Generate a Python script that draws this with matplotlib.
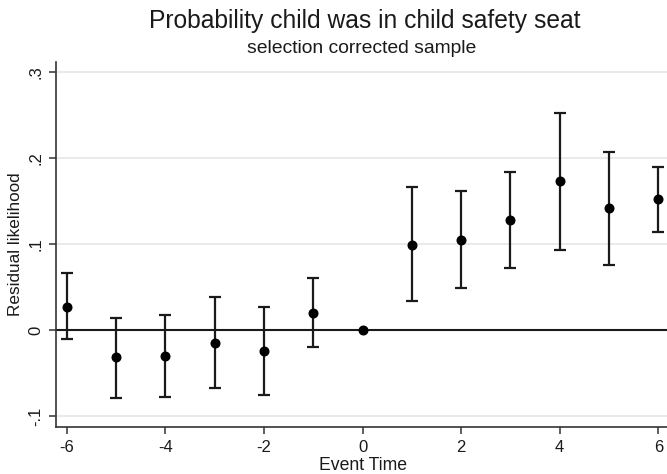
import matplotlib
matplotlib.use("Agg")
import matplotlib.pyplot as plt
from matplotlib.ticker import FixedLocator

plt.rcParams['font.family'] = ['Liberation Sans', 'DejaVu Sans']

event_time = [-6, -5, -4, -3, -2, -1, 0, 1, 2, 3, 4, 5, 6]
estimate = [0.027, -0.032, -0.030, -0.015, -0.024, 0.020, 0.0, 0.099, 0.105, 0.128, 0.173, 0.1415, 0.1516]
ci_upper = [0.066, 0.014, 0.017, 0.038, 0.027, 0.060, 0.0, 0.166, 0.161, 0.183, 0.252, 0.2066, 0.189]
ci_lower = [-0.011, -0.079, -0.078, -0.068, -0.076, -0.020, 0.0, 0.034, 0.049, 0.072, 0.093, 0.076, 0.114]
y_ticks = [-0.1, 0, 0.1, 0.2, 0.3]
y_ticklabels = ['-.1', '0', '.1', '.2', '.3']
x_ticks = [-6, -4, -2, 0, 2, 4, 6]

fig = plt.figure(figsize=(6.67, 4.74), dpi=100)
W, H = 667, 474
left, right, bottom, top = 55.7, 667, 427.3, 61.7
ax = fig.add_axes([left / W, 1 - bottom / H, (right - left) / W, (bottom - top) / H])

ax.set_xlim(-6.223, 6.176)
ax.set_ylim(-0.1131, 0.3116)

for yt in y_ticks:
    if yt != 0:
        ax.axhline(yt, color='#e6e6e6', lw=1.2, zorder=0)
ax.axhline(0, color='#1a1a1a', lw=1.5, zorder=1)

yerr_lo = [e - l for e, l in zip(estimate, ci_lower)]
yerr_hi = [u - e for e, u in zip(estimate, ci_upper)]
has_err = [i for i in range(len(event_time)) if ci_upper[i] != ci_lower[i]]
ax.errorbar([event_time[i] for i in has_err], [estimate[i] for i in has_err],
            yerr=[[yerr_lo[i] for i in has_err], [yerr_hi[i] for i in has_err]],
            fmt='none', ecolor='#1a1a1a', elinewidth=1.6, capsize=4.2, capthick=1.6, zorder=2)
ax.plot(event_time, estimate, 'o', color='black', markersize=6.2, zorder=3)

for s in ['top', 'right']:
    ax.spines[s].set_visible(False)
for s in ['left', 'bottom']:
    ax.spines[s].set_color('#333333')
    ax.spines[s].set_linewidth(1.2)

ax.yaxis.set_major_locator(FixedLocator(y_ticks))
ax.set_yticklabels(y_ticklabels, rotation=90, va='center')
ax.set_xticks(x_ticks)
ax.set_xticklabels([str(x) for x in x_ticks])
ax.tick_params(axis='both', direction='out', length=5, width=1.1, color='#333333',
               labelsize=12, labelcolor='#1a1a1a', pad=4)

ax.set_ylabel('Residual likelihood', fontsize=12.3, color='#1a1a1a', labelpad=4)
fig.text(363 / W, 1 - 470 / H, 'Event Time', ha='center', va='baseline',
         fontsize=12.7, color='#1a1a1a')

fig.text(365 / W, 1 - 28 / H, 'Probability child was in child safety seat',
         ha='center', va='baseline', fontsize=17.7, color='#1a1a1a')
fig.text(362 / W, 1 - 53 / H, 'selection corrected sample',
         ha='center', va='baseline', fontsize=13.9, color='#1a1a1a')

fig.savefig('out.png', dpi=100)
